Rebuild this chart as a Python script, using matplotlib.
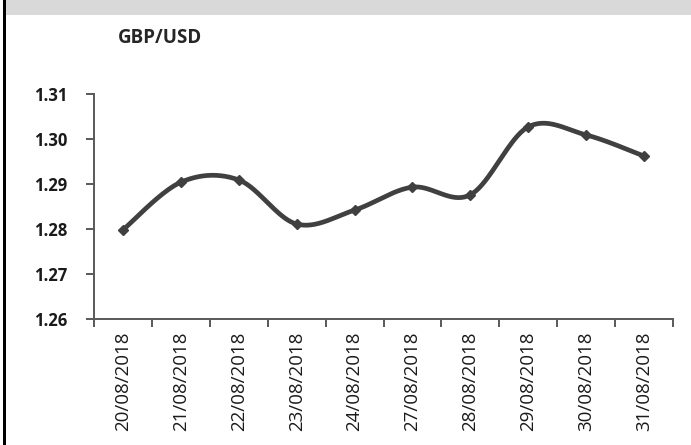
import numpy as np
import matplotlib
matplotlib.use("Agg")
import matplotlib.pyplot as plt
from matplotlib.patches import Rectangle

dates = ["20/08/2018", "21/08/2018", "22/08/2018", "23/08/2018", "24/08/2018",
         "27/08/2018", "28/08/2018", "29/08/2018", "30/08/2018", "31/08/2018"]
rates = [1.2798, 1.2904, 1.2909, 1.2811, 1.2842, 1.2893, 1.2876, 1.3027, 1.3009, 1.2962]
y_ticks = [1.26, 1.27, 1.28, 1.29, 1.30, 1.31]
y_tick_labels = ["1.26", "1.27", "1.28", "1.29", "1.30", "1.31"]
title = "GBP/USD"

line_col = "#404040"
axis_col = "#595959"

fig = plt.figure(figsize=(6.91, 4.45), dpi=100)
fig.patch.set_facecolor("white")

# top gray band and left frame line
fig.add_artist(Rectangle((5.5 / 691, 1 - 14.5 / 445), 1, 14.5 / 445,
                         transform=fig.transFigure, facecolor="#d9d9d9",
                         edgecolor="none", zorder=0))
fig.add_artist(Rectangle((2.5 / 691, 0), 3 / 691, 1, transform=fig.transFigure,
                         facecolor="black", edgecolor="none", zorder=1))

ax = fig.add_axes([94 / 691, 1 - 319 / 445, (673 - 94) / 691, (319 - 94) / 445])
ax.set_facecolor("none")

x = np.arange(len(rates)) + 0.5
y = np.array(rates)

# Smooth (Catmull-Rom style) rendering between the data points
P = np.column_stack([x, y])
Pext = np.vstack([P[0], P, P[-1]])
curve = []
for i in range(1, len(Pext) - 2):
    p0, p1, p2, p3 = Pext[i - 1], Pext[i], Pext[i + 1], Pext[i + 2]
    c1 = p1 + (p2 - p0) / 6
    c2 = p2 - (p3 - p1) / 6
    t = np.linspace(0, 1, 40)[:, None]
    seg = (1 - t) ** 3 * p1 + 3 * (1 - t) ** 2 * t * c1 + 3 * (1 - t) * t ** 2 * c2 + t ** 3 * p2
    curve.append(seg if i == 1 else seg[1:])
curve = np.vstack(curve)
ax.plot(curve[:, 0], curve[:, 1], color=line_col, lw=3.4, solid_capstyle="round",
        solid_joinstyle="round", zorder=3)
ax.plot(x, y, linestyle="none", marker="D", markersize=5, color=line_col, zorder=4)

ax.set_xlim(0, len(rates))
ax.set_ylim(1.26, 1.31)
ax.set_yticks(y_ticks)
ax.set_yticklabels(y_tick_labels, fontsize=12, fontweight="bold", family="Open Sans",
                   color="#1a1a1a")
ax.set_xticks(np.arange(len(rates) + 1))
ax.set_xticklabels([""] * (len(rates) + 1))
ax.set_xticks(x, minor=True)
ax.set_xticklabels(dates, minor=True, rotation=90, fontsize=13.5, family="Open Sans",
                   color="#1a1a1a")
ax.tick_params(axis="x", which="minor", length=0, pad=9)
ax.tick_params(axis="x", which="major", length=6, width=1.4, color=axis_col, direction="out")
ax.tick_params(axis="y", length=6, width=1.4, color=axis_col, direction="out", pad=13)

for s in ["top", "right"]:
    ax.spines[s].set_visible(False)
for s in ["left", "bottom"]:
    ax.spines[s].set_color(axis_col)
    ax.spines[s].set_linewidth(1.4)

fig.text(118 / 691, 1 - 38 / 445, title, fontsize=13.5, fontweight="bold",
         family="Open Sans", color="#262626", va="center", ha="left")

fig.savefig("out.png", dpi=100, facecolor="white")
